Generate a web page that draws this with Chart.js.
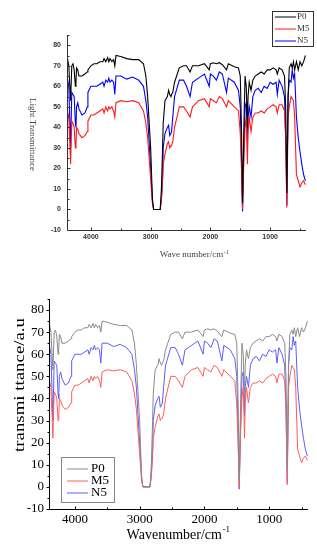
<!DOCTYPE html>
<html><head><meta charset="utf-8">
<script src="https://cdn.jsdelivr.net/npm/chart.js@4/dist/chart.umd.min.js"></script>
<style>
html,body{margin:0;padding:0;background:#fff;width:317px;height:550px;overflow:hidden;}
.box{position:absolute;left:0;width:317px;}
#b1{top:0;height:268px;}
#b2{top:268px;height:282px;}
canvas{display:block;}
</style></head><body>
<div class="box" id="b1"><canvas id="c1" width="317" height="268"></canvas></div>
<div class="box" id="b2"><canvas id="c2" width="317" height="282"></canvas></div>
<script>
// ---- data (wavenumber in cm-1, transmittance) ----
const wavenumbers = [
  4400,4370,4340,4320,4300,4280,4260,4250,4240,4220,
  4200,4150,4100,4060,4050,4000,3950,3900,3850,3800,
  3780,3750,3720,3700,3680,3650,3620,3600,3580,3500,
  3400,3300,3200,3120,3080,3050,3000,2970,2950,2900,
  2840,2820,2800,2790,2760,2720,2700,2680,2660,2650,
  2630,2600,2520,2450,2400,2340,2300,2200,2100,2020,
  2000,1950,1900,1850,1800,1730,1700,1600,1530,1500,
  1480,1462,1440,1420,1400,1380,1370,1350,1320,1290,
  1250,1200,1150,1100,1050,1000,950,900,880,850,
  800,760,740,720,700,680,650,630,610,590,
  560,530,500,470,440,410
];
const P0 = [
  75,70,53,70,71,68,60,62,69,68,
  65,65,66,67,68,70,71,71,72,72,
  73.5,72,74,72,73.5,72,73,70,75,74.5,
  73.5,73,73,71,65,55,30,5,0,0,
  0,10,30,42,53,55,58,56,55,56,
  57,62,69,70,70,67,70,70,71,68,
  71,71.5,71,71.5,70.5,68,71,69.5,69,65,
  40,3,40,65,60,40,55,62,58,63,
  65,66,67,66,68,68,69,68,66,69,
  68,65,50,8,55,69,71,69,72,68,
  72,68,72,70,72,75
];
const M5 = [
  49,45,22,43,42,40,30,31,40,39,
  37,35,36,38,43,46,46,47,48,49,
  47,50,48,50,49,50,48,45,52,53,
  52.5,53,52,48,42,35,15,3,0,0,
  0,5,15,22,27,32,33,30,31,31,
  33,40,50,50,48,45,50,53,54,50,
  54,53,52,55,54,50,53,50,48,37,
  20,0,25,40,45,22,38,45,38,45,
  47,47,48,47,49,50,51,50,47,51,
  51,48,35,1,45,50,55,54,53,45,
  17,14,11,13,14,12
];
const N5 = [
  65,60,30,57,56,55,42,40,50,52,
  49,46,47,50,57,60,60,60,61,62,
  60,63,62,64,62,63,62,56,65,65,
  63.5,64.5,63,60,53,45,20,4,0,0,
  0,5,15,30,37,40,41,36,37,38,
  45,55,63,63,60,55,62,64,66,60,
  66,65,63,67,66,57,64,62,58,50,
  25,-1,30,50,52,32,45,50,45,55,
  58,59,57,60,59,62,61,62,56,63,
  60,55,35,2,55,63,62,68,64,66,
  45,35,28,22,17,14
];
const seriesNames = ['P0','M5','N5'];
const seriesValues = [P0, M5, N5];
const xTickValues = [4000,3000,2000,1000];
const yTickValues = [-10,0,10,20,30,40,50,60,70,80];
const xMin = 400, xMax = 4400, yMin = -10, yMax = 85;

const topYTitle = 'Light Transmittance';
const topXTitle = 'Wave number/cm';
const bottomYTitle = 'transmi ttance/a.u';
const bottomXTitle = 'Wavenumber/cm';
const xTitleSup = '-1';

// ---- decoration plugin: axes, inner/outer ticks, titles, boxed legend ----
const decor = {
  id: 'decor',
  afterDraw(chart, args, o) {
    const ctx = chart.ctx, xs = chart.scales.x, ys = chart.scales.y, a = chart.chartArea;
    ctx.save();
    ctx.strokeStyle = o.axisColor; ctx.lineWidth = 1;
    const L = Math.round(a.left) + 0.5, B = Math.round(a.bottom) + 0.5;
    ctx.beginPath();
    ctx.moveTo(L, Math.round(a.top)); ctx.lineTo(L, B); ctx.lineTo(Math.round(a.right), B);
    ctx.stroke();
    const yStep = (yTickValues[1] - yTickValues[0]) / 2;
    for (let v = yTickValues[0]; v <= ys.max + 1e-9; v += yStep) {
      const major = yTickValues.includes(v);
      const len = major ? o.majorLen : o.minorLen;
      const py = Math.round(ys.getPixelForValue(v)) + 0.5;
      ctx.beginPath(); ctx.moveTo(L, py); ctx.lineTo(L + o.yDir * len, py); ctx.stroke();
    }
    const xStep = Math.abs(xTickValues[1] - xTickValues[0]) / 2;
    for (let v = Math.ceil(xs.min / xStep) * xStep; v <= xs.max; v += xStep) {
      const major = xTickValues.includes(v);
      const len = major ? o.majorLen : o.minorLen;
      const px = Math.round(xs.getPixelForValue(v)) + 0.5;
      ctx.beginPath(); ctx.moveTo(px, B); ctx.lineTo(px, B - len); ctx.stroke();
    }
    // titles
    ctx.fillStyle = o.titleColor; ctx.font = o.yTitleFont || o.titleFont;
    ctx.textAlign = 'center'; ctx.textBaseline = 'middle';
    ctx.save();
    ctx.translate(o.yTitleX, (a.top + a.bottom) / 2 + o.yTitleDy);
    ctx.rotate(o.yTitleRot);
    if (o.yTitleLen) {
      const tw = ctx.measureText(o.yTitle).width;
      ctx.scale(o.yTitleLen / tw, 1);
    }
    ctx.fillText(o.yTitle, 0, 0);
    ctx.restore();
    ctx.font = o.titleFont; const w1 = ctx.measureText(o.xTitle).width;
    ctx.font = o.supFont; const w2 = ctx.measureText(xTitleSup).width;
    const sx = o.xTitleX - (w1 + w2) / 2;
    ctx.textAlign = 'left';
    ctx.font = o.titleFont; ctx.fillText(o.xTitle, sx, o.xTitleY);
    ctx.font = o.supFont; ctx.fillText(xTitleSup, sx + w1 + 0.5, o.xTitleY - o.supRaise);
    // legend
    const lg = o.legend;
    ctx.strokeStyle = lg.border; ctx.lineWidth = 1;
    ctx.strokeRect(lg.x + 0.5, lg.y + 0.5, lg.w, lg.h);
    chart.data.datasets.forEach((ds, i) => {
      const yy = lg.y + lg.rows[i];
      ctx.strokeStyle = ds.borderColor; ctx.lineWidth = lg.lineW;
      ctx.beginPath(); ctx.moveTo(lg.x + lg.l0, yy + 0.5); ctx.lineTo(lg.x + lg.l1, yy + 0.5); ctx.stroke();
      ctx.fillStyle = lg.color; ctx.font = lg.font;
      ctx.textAlign = 'left'; ctx.textBaseline = 'middle';
      ctx.fillText(ds.label, lg.x + lg.tx, yy + 0.5);
    });
    ctx.restore();
  }
};

function buildChart(id, cfg) {
  return new Chart(document.getElementById(id), {
    type: 'line',
    data: {
      datasets: seriesNames.map((n, i) => ({
        label: n,
        data: wavenumbers.map((w, j) => ({ x: w, y: seriesValues[i][j] })),
        borderColor: cfg.colors[i], borderWidth: cfg.lineWidth,
        pointRadius: 0, tension: 0, fill: false
      }))
    },
    options: {
      responsive: false, animation: false, events: [],
      layout: { padding: { top: cfg.area.top, right: cfg.W - cfg.area.right, left: 0, bottom: 0 } },
      plugins: { legend: { display: false }, tooltip: { enabled: false }, decor: cfg },
      scales: {
        x: {
          type: 'linear', reverse: true, min: xMin, max: xMax,
          afterBuildTicks: s => { s.ticks = xTickValues.map(v => ({ value: v })); },
          afterFit: s => { s.height = cfg.H - cfg.area.bottom; },
          grid: { display: false, drawTicks: false, tickLength: 0 }, border: { display: false },
          ticks: { font: cfg.tickFont, color: cfg.tickColor, padding: cfg.xPad,
                   maxRotation: 0, autoSkip: false, callback: v => String(v) }
        },
        y: {
          type: 'linear', min: yMin, max: yMax,
          afterBuildTicks: s => { s.ticks = yTickValues.map(v => ({ value: v })); },
          afterFit: s => { s.width = cfg.area.left; },
          grid: { display: false, drawTicks: false, tickLength: 0 }, border: { display: false },
          ticks: { font: cfg.tickFont, color: cfg.tickColor, padding: cfg.yPad,
                   autoSkip: false, callback: v => String(v) }
        }
      }
    },
    plugins: [decor]
  });
}

buildChart('c1', {
  W: 317, H: 268,
  area: { left: 67, right: 306, top: 35, bottom: 230 },
  colors: ['#000000', '#ff1a1a', '#0000ff'], lineWidth: 1.1,
  tickFont: { family: 'Liberation Sans', size: 7, weight: 'bold' }, tickColor: '#333',
  xPad: 3, yPad: 6,
  axisColor: '#333', majorLen: 3, minorLen: 2, yDir: 1,
  titleColor: '#444', titleFont: '9px "Liberation Serif"', supFont: '6px "Liberation Serif"', supRaise: 3,
  yTitle: topYTitle, yTitleX: 32, yTitleDy: 2, yTitleRot: Math.PI / 2,
  xTitle: topXTitle, xTitleX: 194, xTitleY: 255,
  legend: { x: 272, y: 11, w: 41, h: 35, rows: [5.5, 17.5, 29.5], l0: 3, l1: 24, tx: 25,
            lineW: 1, border: '#333', color: '#333', font: '9px "Liberation Serif"' }
});

buildChart('c2', {
  W: 317, H: 282,
  area: { left: 49, right: 308, top: 31, bottom: 241 },
  colors: ['#8a8a8a', '#ff5c5c', '#5c5cff'], lineWidth: 1,
  tickFont: { family: 'Liberation Serif', size: 13 }, tickColor: '#000',
  xPad: 3, yPad: 5,
  axisColor: '#000', majorLen: 3, minorLen: 2, yDir: -1,
  titleColor: '#000', titleFont: '14px "Liberation Serif"', supFont: '9px "Liberation Serif"', supRaise: 5,
  yTitleFont: '15px "Liberation Serif"', yTitleLen: 134,
  yTitle: bottomYTitle, yTitleX: 20, yTitleDy: -19, yTitleRot: -Math.PI / 2,
  xTitle: bottomXTitle, xTitleX: 178, xTitleY: 267,
  legend: { x: 61, y: 189, w: 53, h: 45, rows: [11.5, 23.5, 35.5], l0: 6, l1: 27, tx: 30,
            lineW: 1, border: '#888', color: '#000', font: '13px "Liberation Serif"' }
});
</script>
</body></html>
